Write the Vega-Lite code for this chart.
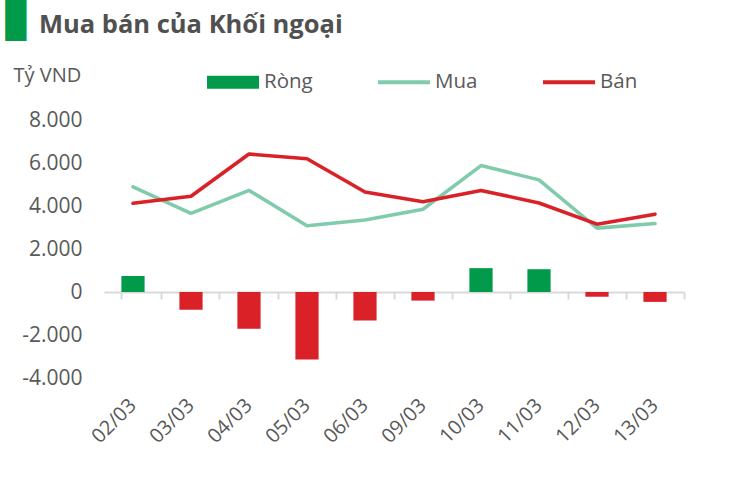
{
  "$schema": "https://vega.github.io/schema/vega-lite/v6.json",
  "width": 580,
  "height": 258,
  "autosize": "none",
  "padding": {"left": 104, "top": 120, "right": 65, "bottom": 107},
  "background": "white",
  "config": {
    "font": "Open Sans",
    "view": {"stroke": null},
    "locale": {"number": {"decimal": ",", "thousands": ".", "grouping": [3], "currency": ["", ""], "minus": "-"}}
  },
  "title": {
    "text": "Mua bán của Khối ngoại",
    "anchor": "start",
    "frame": "group",
    "dx": -65,
    "dy": 23,
    "fontSize": 25.5,
    "fontWeight": "bold",
    "color": "#505050",
    "baseline": "alphabetic",
    "offset": -33
  },
  "data": {
    "values": [
      {"ngay": "02/03", "loai": "Ròng", "gt": 750},
      {"ngay": "03/03", "loai": "Ròng", "gt": -830},
      {"ngay": "04/03", "loai": "Ròng", "gt": -1710},
      {"ngay": "05/03", "loai": "Ròng", "gt": -3140},
      {"ngay": "06/03", "loai": "Ròng", "gt": -1330},
      {"ngay": "09/03", "loai": "Ròng", "gt": -400},
      {"ngay": "10/03", "loai": "Ròng", "gt": 1110},
      {"ngay": "11/03", "loai": "Ròng", "gt": 1060},
      {"ngay": "12/03", "loai": "Ròng", "gt": -220},
      {"ngay": "13/03", "loai": "Ròng", "gt": -460},
      {"ngay": "02/03", "loai": "Mua", "gt": 4890},
      {"ngay": "03/03", "loai": "Mua", "gt": 3660},
      {"ngay": "04/03", "loai": "Mua", "gt": 4725},
      {"ngay": "05/03", "loai": "Mua", "gt": 3080},
      {"ngay": "06/03", "loai": "Mua", "gt": 3350},
      {"ngay": "09/03", "loai": "Mua", "gt": 3850},
      {"ngay": "10/03", "loai": "Mua", "gt": 5880},
      {"ngay": "11/03", "loai": "Mua", "gt": 5215},
      {"ngay": "12/03", "loai": "Mua", "gt": 2970},
      {"ngay": "13/03", "loai": "Mua", "gt": 3185},
      {"ngay": "02/03", "loai": "Bán", "gt": 4125},
      {"ngay": "03/03", "loai": "Bán", "gt": 4450},
      {"ngay": "04/03", "loai": "Bán", "gt": 6415},
      {"ngay": "05/03", "loai": "Bán", "gt": 6200},
      {"ngay": "06/03", "loai": "Bán", "gt": 4650},
      {"ngay": "09/03", "loai": "Bán", "gt": 4200},
      {"ngay": "10/03", "loai": "Bán", "gt": 4725},
      {"ngay": "11/03", "loai": "Bán", "gt": 4140},
      {"ngay": "12/03", "loai": "Bán", "gt": 3155},
      {"ngay": "13/03", "loai": "Bán", "gt": 3620}
    ]
  },
  "resolve": {"axis": {"x": "independent"}},
  "layer": [
    {
      "transform": [{"filter": "datum.loai === 'Ròng'"}],
      "mark": {"type": "bar"},
      "encoding": {
        "x": {
          "field": "ngay", "type": "ordinal", "sort": null,
          "scale": {"paddingInner": 0.6, "paddingOuter": 0.3},
          "axis": {
            "orient": "bottom",
            "offset": -86,
            "labels": false,
            "domainColor": "#d9d9d9",
            "domainWidth": 2,
            "tickColor": "#d9d9d9",
            "tickWidth": 2,
            "tickSize": 7,
            "bandPosition": 1.75,
            "tickExtra": true,
            "title": "▊",
            "titleFont": "DejaVu Sans",
            "titleFontSize": 36,
            "titleColor": "#009a4a",
            "titleFontWeight": "normal",
            "titleAngle": 0,
            "titleX": -99,
            "titleY": -272,
            "titleAlign": "left",
            "titleBaseline": "middle"
          }
        },
        "y": {
          "field": "gt", "type": "quantitative",
          "scale": {"domain": [-4000, 8000], "nice": false, "zero": false},
          "axis": {
            "values": [-4000, -2000, 0, 2000, 4000, 6000, 8000],
            "format": ",.0f",
            "domain": false, "ticks": false, "grid": false,
            "labelFontSize": 21,
            "labelColor": "#595959",
            "labelPadding": 22,
            "title": "Tỷ VND",
            "titleAngle": 0,
            "titleX": -91,
            "titleY": -45,
            "titleAlign": "left",
            "titleBaseline": "middle",
            "titleFontSize": 20,
            "titleFontWeight": "normal",
            "titleColor": "#595959"
          }
        },
        "color": {
          "condition": {"test": "datum.gt < 0", "value": "#da2128"},
          "field": "loai", "type": "nominal",
          "scale": {"domain": ["Ròng", "Mua", "Bán"], "range": ["#009a4a", "#80cbab", "#da2128"]},
          "legend": {
            "orient": "none",
            "legendX": 103,
            "legendY": -64,
            "direction": "horizontal",
            "title": null,
            "symbolSize": 2704,
            "labelFontSize": 20.5,
            "labelColor": "#595959",
            "labelOffset": 5,
            "columnPadding": 65,
            "encode": {
              "symbols": {
                "update": {
                  "shape": {"signal": "datum.value === 'Ròng' ? 'M-1,-0.25H1V0.25H-1Z' : 'M-1,-0.075H1V0.075H-1Z'"},
                  "fill": {"signal": "datum.value === 'Ròng' ? '#009a4a' : datum.value === 'Mua' ? '#80cbab' : '#da2128'"},
                  "strokeWidth": {"value": 0},
                  "opacity": {"value": 1},
                  "fillOpacity": {"value": 1}
                }
              }
            }
          }
        }
      }
    },
    {
      "transform": [{"filter": "datum.loai !== 'Ròng'"}],
      "mark": {"type": "line", "strokeWidth": 3.6, "strokeCap": "round", "strokeJoin": "round"},
      "encoding": {
        "x": {
          "field": "ngay", "type": "ordinal", "sort": null,
          "axis": {
            "orient": "bottom",
            "domain": false, "ticks": false,
            "labelAngle": -45,
            "labelAlign": "right",
            "labelBaseline": "middle",
            "labelFontSize": 20,
            "labelColor": "#595959",
            "labelPadding": 24,
            "title": null
          }
        },
        "y": {"field": "gt", "type": "quantitative"},
        "color": {"field": "loai", "type": "nominal", "sort": ["Mua", "Bán"]}
      }
    }
  ]
}
